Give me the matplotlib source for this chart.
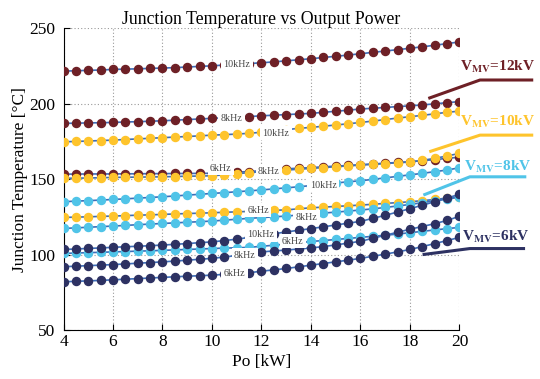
import matplotlib
matplotlib.use("Agg")
import matplotlib.pyplot as plt

plt.rcParams['font.family'] = ['Liberation Serif', 'DejaVu Serif']
plt.rcParams['mathtext.fontset'] = 'stix'

# output power [kW]
po_kw = [4.0, 4.5, 5.0, 5.5, 6.0, 6.5, 7.0, 7.5, 8.0, 8.5, 9.0, 9.5, 10.0,
         10.5, 11.0, 11.5, 12.0, 12.5, 13.0, 13.5, 14.0, 14.5, 15.0, 15.5,
         16.0, 16.5, 17.0, 17.5, 18.0, 18.5, 19.0, 19.5, 20.0]

# junction temperature [C], one list per (V_MV, f_sw)
tj_12kv_10khz = [221.5, 221.7, 222.0, 222.2, 222.6, 222.8, 223.0, 223.3, 223.5, 223.8, 224.2, 224.6, 225.0,
                 225.5, 226.0, 226.5, 227.0, 227.6, 228.3, 229.0, 229.7, 230.5, 231.3, 232.1,
                 233.0, 233.9, 234.8, 235.7, 236.6, 237.6, 238.6, 239.7, 240.8]
tj_12kv_8khz = [186.9, 187.0, 187.2, 187.3, 187.5, 187.8, 188.0, 188.3, 188.6, 189.0, 189.4, 189.8, 190.2,
                190.6, 191.0, 191.4, 191.9, 192.3, 192.7, 193.1, 193.5, 194.2, 194.9, 195.6,
                196.4, 196.9, 197.4, 198.0, 198.5, 199.1, 199.8, 200.6, 201.3]
tj_12kv_6khz = [153.3, 153.3, 153.4, 153.4, 153.4, 153.5, 153.5, 153.6, 153.6, 153.7, 153.7, 153.8, 153.8,
                154.2, 154.6, 155.0, 155.6, 156.2, 156.8, 157.2, 157.6, 158.1, 158.6, 159.0,
                159.5, 160.0, 160.5, 161.0, 161.5, 162.2, 162.9, 163.7, 164.5]
tj_10kv_10khz = [174.7, 174.9, 175.2, 175.5, 175.8, 176.2, 176.6, 177.0, 177.4, 177.8, 178.2, 178.6, 179.1,
                 179.4, 179.8, 180.3, 181.0, 181.8, 182.7, 183.6, 184.2, 185.0, 185.8, 186.6,
                 187.5, 188.4, 189.4, 190.4, 191.3, 192.2, 193.2, 194.2, 195.0]
tj_10kv_8khz = [150.5, 150.6, 150.7, 150.9, 151.1, 151.2, 151.3, 151.4, 151.5, 151.7, 151.9, 152.0, 152.2,
                152.8, 153.5, 154.3, 154.9, 155.4, 156.0, 156.5, 157.1, 157.6, 158.2, 158.7,
                159.3, 159.8, 160.3, 160.8, 161.3, 162.4, 163.7, 165.3, 167.0]
tj_10kv_6khz = [124.6, 124.8, 125.0, 125.3, 125.5, 125.8, 126.1, 126.3, 126.6, 126.9, 127.2, 127.4, 127.7,
                128.0, 128.3, 128.6, 129.0, 129.3, 129.6, 130.3, 131.0, 131.4, 131.9, 132.3,
                132.8, 133.3, 133.9, 134.4, 135.0, 135.7, 136.5, 137.4, 138.3]
tj_8kv_10khz = [135.0, 135.4, 135.7, 136.1, 136.5, 136.9, 137.4, 137.8, 138.3, 138.8, 139.4, 139.9, 140.5,
                141.0, 141.6, 142.2, 142.8, 143.5, 144.2, 144.9, 145.7, 146.5, 147.4, 148.2,
                148.9, 149.8, 150.8, 151.8, 152.8, 153.8, 154.9, 156.0, 157.5]
tj_8kv_8khz = [117.3, 117.7, 118.1, 118.5, 118.9, 119.3, 119.8, 120.2, 120.6, 121.0, 121.4, 121.8, 122.2,
               122.8, 123.4, 124.0, 124.5, 125.0, 125.5, 126.2, 126.8, 127.5, 128.1, 128.8,
               129.5, 130.3, 131.2, 132.2, 133.2, 134.4, 135.6, 136.8, 138.0]
tj_8kv_6khz = [100.8, 101.0, 101.3, 101.5, 101.8, 102.0, 102.3, 102.5, 102.8, 103.1, 103.4, 103.7, 104.0,
               104.3, 104.5, 104.8, 105.5, 106.2, 107.0, 107.8, 108.7, 109.3, 110.0, 110.7,
               111.4, 112.1, 112.8, 113.6, 114.5, 115.4, 116.3, 117.2, 118.0]
tj_6kv_10khz = [103.4, 103.7, 104.1, 104.4, 104.8, 105.2, 105.5, 105.9, 106.3, 106.8, 107.3, 107.9, 108.4,
                109.3, 110.2, 111.4, 112.6, 113.8, 115.0, 116.1, 117.2, 118.4, 119.6, 120.8,
                122.0, 124.0, 126.0, 128.2, 130.4, 132.7, 135.0, 137.4, 140.0]
tj_6kv_8khz = [92.0, 92.3, 92.7, 93.0, 93.4, 93.8, 94.3, 94.7, 95.2, 95.7, 96.3, 96.9, 97.5,
               98.4, 99.4, 100.6, 101.8, 102.4, 103.0, 103.7, 104.4, 105.3, 106.4, 107.6,
               108.8, 110.8, 112.8, 114.8, 116.8, 118.6, 120.5, 122.6, 125.4]
tj_6kv_6khz = [82.0, 82.3, 82.6, 82.9, 83.3, 83.7, 84.1, 84.5, 84.9, 85.3, 85.7, 86.0, 86.4,
               86.9, 87.4, 88.0, 89.0, 89.9, 90.8, 91.9, 93.0, 94.1, 95.2, 96.3,
               97.5, 98.9, 100.3, 101.8, 103.4, 105.3, 107.3, 109.3, 111.4]

red, yellow, cyan, navy = '#6e2026', '#fec42c', '#50c4e8', '#2d3162'
line_blue = '#3d6db8'

# (values, marker colour, label text, label x, label y)
series = [
    (tj_12kv_10khz, red, '10kHz', 11.0, 226.0),
    (tj_12kv_8khz, red, '8kHz', 10.8, 190.2),
    (tj_12kv_6khz, red, '6kHz', 10.36, 157.1),
    (tj_10kv_10khz, yellow, '10kHz', 12.58, 180.3),
    (tj_10kv_8khz, yellow, '8kHz', 12.3, 154.8),
    (tj_10kv_6khz, yellow, '6kHz', 11.86, 129.5),
    (tj_8kv_10khz, cyan, '10kHz', 14.5, 146.0),
    (tj_8kv_8khz, cyan, '8kHz', 13.83, 124.6),
    (tj_8kv_6khz, cyan, '6kHz', 13.27, 108.9),
    (tj_6kv_10khz, navy, '10kHz', 11.98, 113.3),
    (tj_6kv_8khz, navy, '8kHz', 11.33, 99.5),
    (tj_6kv_6khz, navy, '6kHz', 10.9, 87.5),
]

# voltage tags: text, colour, text pos, leader line points
tags = [
    ('12', red, (20.02, 224.4), [(18.74, 203.4), (20.83, 215.6), (22.98, 215.6)]),
    ('10', yellow, (20.02, 188.0), [(18.78, 168.1), (20.83, 179.1), (22.98, 179.1)]),
    ('8', cyan, (20.2, 158.1), [(18.54, 139.4), (20.42, 151.5), (22.7, 151.5)]),
    ('6', navy, (20.1, 111.4), [(18.51, 100.0), (20.42, 104.0), (22.65, 104.0)]),
]

fig = plt.figure(figsize=(5.4, 3.79), dpi=100)
ax = fig.add_axes([0.1176, 0.129, 0.7333, 0.797])

for vals, col, lab, lx, ly in series:
    ax.plot(po_kw, vals, '-', color=line_blue, lw=1.2, marker='o', ms=5.8,
            mfc=col, mec=col, zorder=3)

for vals, col, lab, lx, ly in series:
    ax.text(lx, ly, lab, fontsize=7.2, color='#444444', ha='center', va='center', zorder=5,
            bbox=dict(facecolor='white', edgecolor='none', pad=1.8))

for kv, col, (tx, ty), pts in tags:
    ax.text(tx, ty, r'V$_{\mathbf{MV}}$=' + kv + 'kV', color=col, fontsize=11,
            fontweight='bold', ha='left', va='center', clip_on=False, zorder=6)
    ax.plot([p[0] for p in pts], [p[1] for p in pts], color=col, lw=2.2,
            clip_on=False, solid_capstyle='butt', zorder=6)

ax.set_xlim(4, 20)
ax.set_ylim(50, 250)
ax.set_xticks([4, 6, 8, 10, 12, 14, 16, 18, 20])
ax.set_yticks([50, 100, 150, 200, 250])
ax.grid(True, linestyle=(0, (1, 2)), color='#999999', linewidth=0.8)
ax.set_axisbelow(True)
for side in ['top', 'right']:
    ax.spines[side].set_visible(False)
ax.tick_params(direction='in', length=4, labelsize=12.5)
ax.tick_params(axis='x', pad=3)
ax.tick_params(axis='y', pad=6)
ax.set_title('Junction Temperature vs Output Power', fontsize=12.8, pad=3)
ax.set_xlabel('Po [kW]', fontsize=12.5, labelpad=3)
ax.set_ylabel('Junction Temperature [°C]', fontsize=12.5, labelpad=1)

fig.savefig('out.png', dpi=100)
